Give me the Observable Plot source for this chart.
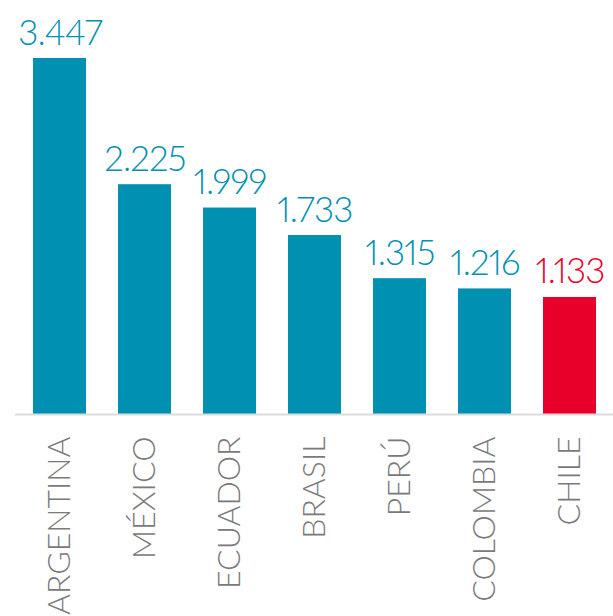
<!DOCTYPE html>
<html>
<head>
<meta charset="utf-8">
<script src="https://cdn.jsdelivr.net/npm/d3@7"></script>
<script src="https://cdn.jsdelivr.net/npm/@observablehq/plot@0.6"></script>
<style>
  html, body { margin: 0; padding: 0; background: #fff; }
  svg { font-family: Lato, "Open Sans", sans-serif; font-weight: 300; }
  .vals text { font-variant-numeric: proportional-nums; letter-spacing: -0.8px; }
</style>
</head>
<body>
<div id="chart"></div>
<script>
const countries = ["ARGENTINA", "MÉXICO", "ECUADOR", "BRASIL", "PERÚ", "COLOMBIA", "CHILE"];
const values = [3447, 2225, 1999, 1733, 1315, 1216, 1133];
const highlight = "CHILE";

const teal = "#0090b2";
const red = "#e8002b";
const data = countries.map((c, i) => ({country: c, value: values[i]}));
const fmt = d3.formatLocale({decimal: ",", thousands: ".", grouping: [3], currency: ["", ""]}).format(",d");
const fillOf = d => d.country === highlight ? red : teal;

const chart = Plot.plot({
  width: 613,
  height: 616,
  marginLeft: 15,
  marginRight: 0,
  marginTop: 58,
  marginBottom: 202,
  style: {fontFamily: "Lato, 'Open Sans', sans-serif", fontWeight: 300},
  x: {domain: countries, paddingInner: 0.378, paddingOuter: 0.196},
  y: {domain: [0, 3447], axis: null},
  marks: [
    Plot.barY(data, {x: "country", y: "value", fill: fillOf}),
    Plot.ruleY([0], {stroke: "#dcdcdc", strokeWidth: 2}),
    Plot.text(data, {x: "country", y: "value", text: d => fmt(d.value), fill: fillOf, dy: -14, lineAnchor: "bottom", fontSize: 35, fontWeight: 300, className: "vals"}),
    Plot.axisX({tickSize: 0, tickPadding: 22, tickRotate: -90, fontSize: 32, fill: "#7a7a7a", fontWeight: 300, label: null})
  ]
});
document.getElementById("chart").appendChild(chart);
</script>
</body>
</html>
